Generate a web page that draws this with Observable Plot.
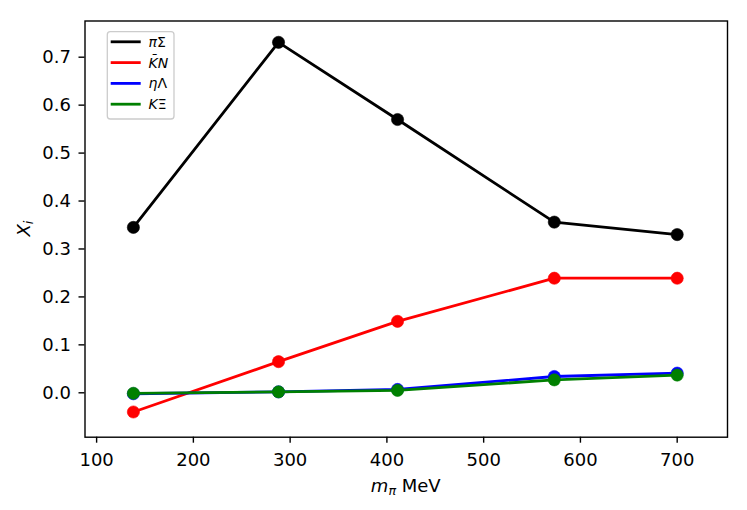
<!DOCTYPE html>
<html>
<head>
<meta charset="utf-8">
<script src="https://cdn.jsdelivr.net/npm/d3@7"></script>
<script src="https://cdn.jsdelivr.net/npm/@observablehq/plot@0.6"></script>
<style>
  html, body { margin: 0; padding: 0; background: white; }
  #chart { width: 747px; height: 510px; }
</style>
</head>
<body>
<div id="chart"></div>
<script>
// Data
const mpi = [138, 288, 411, 573, 700];
const piSigma = [0.345, 0.731, 0.570, 0.356, 0.330];
const KbarN = [-0.040, 0.065, 0.149, 0.239, 0.239];
const etaLambda = [-0.002, 0.002, 0.007, 0.034, 0.041];
const KXi = [-0.001, 0.002, 0.005, 0.027, 0.037];
const xTicks = [100, 200, 300, 400, 500, 600, 700];
const yTicks = [0.0, 0.1, 0.2, 0.3, 0.4, 0.5, 0.6, 0.7];

const seriesDefs = [
  {name: "piSigma", values: piSigma, color: "#000000"},
  {name: "KbarN", values: KbarN, color: "#ff0000"},
  {name: "etaLambda", values: etaLambda, color: "#0000ff"},
  {name: "KXi", values: KXi, color: "#008000"}
];
const tables = seriesDefs.map(s => ({...s, rows: mpi.map((x, i) => ({x, y: s.values[i]}))}));

const seriesMarks = tables.flatMap(s => [
  Plot.line(s.rows, {x: "x", y: "y", stroke: s.color, strokeWidth: 2.8}),
  Plot.dot(s.rows, {x: "x", y: "y", r: 6.1, fill: s.color, stroke: s.color, strokeWidth: 0.6})
]);

const W = 747, H = 510;
const mL = 84.5, mT = 20.5, mR = 20, mB = 73.3;

const chart = Plot.plot({
  width: W, height: H,
  marginLeft: mL, marginTop: mT, marginRight: mR, marginBottom: mB,
  style: {fontFamily: "DejaVu Sans", fontSize: "18px", color: "black", background: "white"},
  x: {domain: [88, 752]},
  y: {domain: [-0.0926, 0.7755]},
  marks: [
    Plot.axisX({ticks: xTicks, tickFormat: d => String(d), tickSize: 6, tickPadding: 10.5, strokeWidth: 1.4, fontSize: 18, label: null}),
    Plot.axisY({ticks: yTicks, tickFormat: d3.format(".1f"), tickSize: 6, tickPadding: 8, strokeWidth: 1.4, fontSize: 18, label: null}),
    ...seriesMarks,
    Plot.frame({stroke: "black", strokeWidth: 1.4})
  ]
});

document.getElementById("chart").appendChild(chart);

const svg = d3.select(chart);

// x label: m_π MeV
const xl = svg.append("text")
  .attr("x", (mL + (W - mR)) / 2)
  .attr("y", 491.5)
  .attr("text-anchor", "middle")
  .attr("font-family", "DejaVu Sans")
  .attr("font-size", 18)
  .attr("fill", "black");
xl.append("tspan").attr("font-style", "italic").text("m");
xl.append("tspan").attr("font-style", "italic").attr("font-size", 12.6).attr("dy", 3).text("π");
xl.append("tspan").attr("dy", -3).text(" MeV");

// y label: X_i
const yl = svg.append("text")
  .attr("transform", `translate(30,${(mT + (H - mB)) / 2}) rotate(-90)`)
  .attr("text-anchor", "middle")
  .attr("font-family", "DejaVu Sans")
  .attr("font-size", 18)
  .attr("fill", "black");
yl.append("tspan").attr("font-style", "italic").text("X");
yl.append("tspan").attr("font-style", "italic").attr("font-size", 12.6).attr("dy", 3).text("i");

// legend
const legendItems = [
  {color: "#000000", parts: [["π", true], ["Σ", false]]},
  {color: "#ff0000", parts: [["K\u0304N", true]]},
  {color: "#0000ff", parts: [["η", true], ["Λ", false]]},
  {color: "#008000", parts: [["K", true], ["Ξ", false]]}
];
const lg = svg.append("g");
lg.append("rect")
  .attr("x", 107.3).attr("y", 31.7).attr("width", 66.7).attr("height", 87.3)
  .attr("rx", 3).attr("fill", "white").attr("fill-opacity", 0.8)
  .attr("stroke", "#cccccc").attr("stroke-width", 1.3);
legendItems.forEach((it, i) => {
  const yy = 41.8 + i * 20.8;
  lg.append("line").attr("x1", 110.7).attr("x2", 140.7).attr("y1", yy).attr("y2", yy)
    .attr("stroke", it.color).attr("stroke-width", 2.8);
  const t = lg.append("text").attr("x", 148.5).attr("y", yy).attr("dy", "0.36em")
    .attr("text-anchor", "start")
    .attr("font-family", "DejaVu Sans").attr("font-size", 14).attr("fill", "black");
  it.parts.forEach(([s, ital]) => {
    t.append("tspan").attr("font-style", ital ? "italic" : "normal").text(s);
  });
});
</script>
</body>
</html>
